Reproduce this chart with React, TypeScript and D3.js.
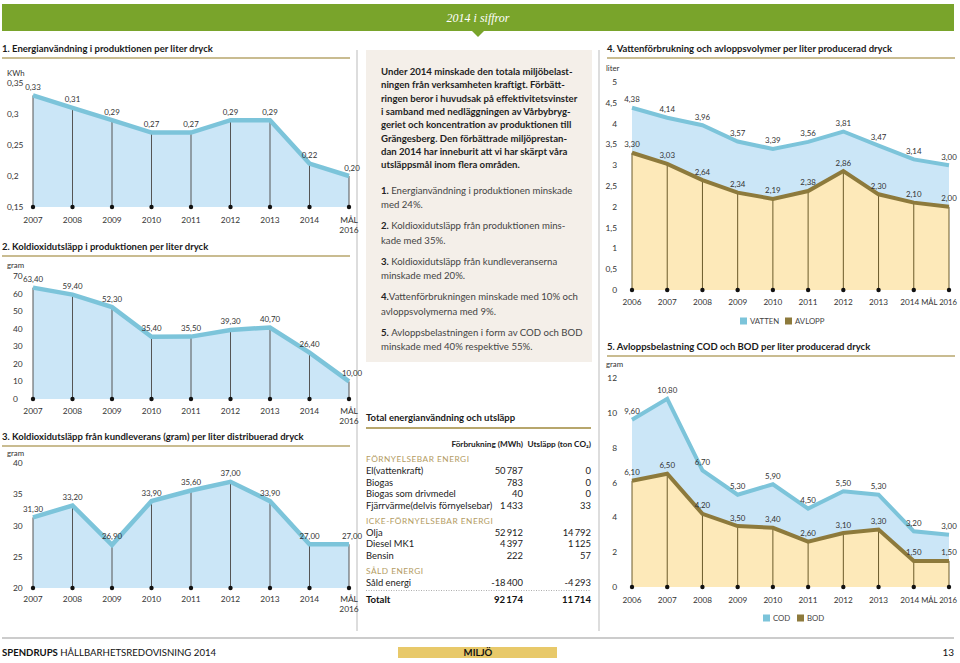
import React from 'react';
import * as d3 from 'd3';

const FONT = 'Lato, "Noto Sans", sans-serif';

// charts 1-3
const years1 = ['2007', '2008', '2009', '2010', '2011', '2012', '2013', '2014', 'MÅL 2016'];
const energy = [0.33, 0.31, 0.29, 0.27, 0.27, 0.29, 0.29, 0.22, 0.2];
const energyTicks = [0.15, 0.2, 0.25, 0.3, 0.35];
const co2Prod = [63.4, 59.4, 52.3, 35.4, 35.5, 39.3, 40.7, 26.4, 10.0];
const co2ProdTicks = [0, 10, 20, 30, 40, 50, 60, 70];
const co2Deliv = [31.3, 33.2, 26.9, 33.9, 35.6, 37.0, 33.9, 27.0, 27.0];
const co2DelivTicks = [20, 25, 30, 35, 40];

// charts 4-5
const years2 = ['2006', '2007', '2008', '2009', '2010', '2011', '2012', '2013', '2014', 'MÅL 2016'];
const vatten = [4.38, 4.14, 3.96, 3.57, 3.39, 3.56, 3.81, 3.47, 3.14, 3.0];
const avlopp = [3.3, 3.03, 2.64, 2.34, 2.19, 2.38, 2.86, 2.3, 2.1, 2.0];
const waterTicks = [0, 0.5, 1, 1.5, 2, 2.5, 3, 3.5, 4, 4.5, 5];
const cod = [9.6, 10.8, 6.7, 5.3, 5.9, 4.5, 5.5, 5.3, 3.2, 3.0];
const bod = [6.1, 6.5, 4.2, 3.5, 3.4, 2.6, 3.1, 3.3, 1.5, 1.5];
const loadTicks = [0, 2, 4, 6, 8, 10, 12];

// table
const sections = ['FÖRNYELSEBAR ENERGI', 'ICKE-FÖRNYELSEBAR ENERGI', 'SÅLD ENERGI'];
const rowSection = [0, 0, 0, 0, 1, 1, 1, 2];
const rowNames = ['El(vattenkraft)', 'Biogas', 'Biogas som drivmedel', 'Fjärrvärme(delvis förnyelsebar)', 'Olja', 'Diesel MK1', 'Bensin', 'Såld energi'];
const rowMwh = [50787, 783, 40, 1433, 52912, 4397, 222, -18400];
const rowCo2 = [0, 0, 0, 33, 14792, 1125, 57, -4293];

const intro = [
  'Under 2014 minskade den totala miljöbelast-',
  'ningen från verksamheten kraftigt. Förbätt-',
  'ringen beror i huvudsak på effektivitetsvinster',
  'i samband med nedläggningen av Vårbybryg-',
  'geriet och koncentration av produktionen till',
  'Grängesberg. Den förbättrade miljöprestan-',
  'dan 2014 har inneburit att vi har skärpt våra',
  'utsläppsmål inom flera områden.',
];
const points = [
  ['1. ', 'Energianvändning i produktionen minskade', 'med 24%.'],
  ['2. ', 'Koldioxidutsläpp från produktionen mins-', 'kade med 35%.'],
  ['3. ', 'Koldioxidutsläpp från kundleveranserna', 'minskade med 20%.'],
  ['4.', 'Vattenförbrukningen minskade med 10% och', 'avloppsvolymerna med 9%.'],
  ['5. ', 'Avloppsbelastningen i form av COD och BOD', 'minskade med 40% respektive 55%.'],
];

const BLUE_LINE = '#7cc4da';
const BLUE_FILL = '#cbe6f7';
const BROWN_LINE = '#8d7a3c';
const YELLOW_FILL = '#fde9b9';
const GOLD = '#b7a66c';
const GREEN = '#79a42b';
const TITLE_SIZE = 9.5;

const sv = d3.formatLocale({ decimal: ',', thousands: '\u2009', grouping: [3], currency: ['', ''], minus: '-' });
const num = sv.format(',d');
const val2 = sv.format('.2f');
const tickFmt = (v: number) => String(v).replace('.', ',');

type Single = {
  title: string; unit: string; values: number[]; ticks: number[];
  titleY: number; unitY: number; yRange: [number, number]; yearY: number; tickX: number;
};

function SingleChart({ title, unit, values, ticks, titleY, unitY, yRange, yearY, tickX }: Single) {
  const x = d3.scalePoint<string>().domain(years1).range([33, 349]);
  const y = d3.scaleLinear().domain([ticks[0], ticks[ticks.length - 1]]).range(yRange);
  const base = yRange[0];
  const area = d3.area<number>().x((_, i) => x(years1[i])!).y0(base).y1(d => y(d));
  const line = d3.line<number>().x((_, i) => x(years1[i])!).y(d => y(d));
  return (
    <g fontFamily={FONT}>
      <text x={2} y={titleY} fontSize={TITLE_SIZE} fontWeight={700} fill="#1a1a1a">{title}</text>
      <line x1={2} x2={350} y1={titleY + 6} y2={titleY + 6} stroke={GOLD} strokeWidth={1.5} />
      <text x={7} y={unitY} fontSize={7.8} fill="#333">{unit}</text>
      {ticks.map(t => (
        <text key={t} x={tickX} y={y(t) + 3} fontSize={8.4} fill="#333">{tickFmt(t)}</text>
      ))}
      <path d={area(values)!} fill={BLUE_FILL} />
      {values.map((v, i) => (
        <line key={i} x1={x(years1[i])} x2={x(years1[i])} y1={y(v)} y2={base} stroke="#555" strokeWidth={1} />
      ))}
      <path d={line(values)!} fill="none" stroke={BLUE_LINE} strokeWidth={4.5} />
      {values.map((v, i) => (
        <circle key={i} cx={x(years1[i])} cy={base} r={2.2} fill="#111" />
      ))}
      {values.map((v, i) => (
        <text key={i} x={x(years1[i])! + (i === values.length - 1 ? 3 : 0)} y={y(v) - 5.5} fontSize={7.9} textAnchor="middle" fill="#333">{val2(v)}</text>
      ))}
      {years1.map(c => {
        const parts = c.split(' ');
        return (
          <text key={c} x={x(c)} y={yearY} fontSize={8.4} textAnchor="middle" fill="#333">
            {parts.map((p, j) => <tspan key={j} x={x(c)} dy={j ? 9.5 : 0}>{p}</tspan>)}
          </text>
        );
      })}
    </g>
  );
}

type Dual = {
  title: string; unit: string; top: number[]; bottom: number[]; ticks: number[];
  names: [string, string]; titleY: number; unitY: number; yRange: [number, number];
  yearY: number; legendY: number; legendX: [number, number];
};

function DualChart({ title, unit, top, bottom, ticks, names, titleY, unitY, yRange, yearY, legendY, legendX }: Dual) {
  const x = d3.scalePoint<string>().domain(years2).range([632, 949]);
  const y = d3.scaleLinear().domain([0, ticks[ticks.length - 1]]).range(yRange);
  const base = yRange[0];
  const px = (i: number) => x(years2[i])!;
  const area = d3.area<number>().x((_, i) => px(i)).y0(base).y1(d => y(d));
  const line = d3.line<number>().x((_, i) => px(i)).y(d => y(d));
  const last = years2.length - 1;
  return (
    <g fontFamily={FONT}>
      <text x={607} y={titleY} fontSize={TITLE_SIZE} fontWeight={700} fill="#1a1a1a">{title}</text>
      <line x1={607} x2={955} y1={titleY + 6} y2={titleY + 6} stroke={GOLD} strokeWidth={1.5} />
      <text x={606} y={unitY} fontSize={7.8} fill="#333">{unit}</text>
      {ticks.map(t => (
        <text key={t} x={617} y={y(t) + 3} fontSize={8.4} textAnchor="end" fill="#333">{tickFmt(t)}</text>
      ))}
      <path d={area(top)!} fill={BLUE_FILL} />
      <path d={area(bottom)!} fill={YELLOW_FILL} />
      {bottom.map((v, i) => (
        <line key={i} x1={px(i)} x2={px(i)} y1={y(v)} y2={base} stroke="#6b5a2a" strokeWidth={1} />
      ))}
      <path d={line(top)!} fill="none" stroke={BLUE_LINE} strokeWidth={4} />
      <path d={line(bottom)!} fill="none" stroke={BROWN_LINE} strokeWidth={4} />
      {top.map((_, i) => <circle key={i} cx={px(i)} cy={base} r={2.2} fill="#111" />)}
      {top.map((v, i) => (
        <text key={'t' + i} x={px(i)} y={y(v) - 5.5} fontSize={7.9} textAnchor="middle" fill="#333">{val2(v)}</text>
      ))}
      {bottom.map((v, i) => (
        <text key={'b' + i} x={px(i)} y={y(v) - 5.5} fontSize={7.9} textAnchor="middle" fill="#333">{val2(v)}</text>
      ))}
      {years2.map((c, i) => (
        i === last
          ? <text key={c} x={957} y={yearY} fontSize={7.7} textAnchor="end" fill="#333">{c}</text>
          : <text key={c} x={px(i) - (i === last - 1 ? 4 : 0)} y={yearY} fontSize={8.2} textAnchor="middle" fill="#333">{c}</text>
      ))}
      {names.map((n, i) => (
        <g key={n}>
          <rect x={legendX[i]} y={legendY - 3.5} width={7} height={7} fill={i ? BROWN_LINE : BLUE_LINE} />
          <text x={legendX[i] + 10} y={legendY + 3} fontSize={7.8} fill="#444">{n}</text>
        </g>
      ))}
    </g>
  );
}

function Table() {
  const colA = 523;
  const colB = 591;
  const rows: React.ReactNode[] = [];
  let yy = 448;
  let prev = -1;
  rowNames.forEach((n, i) => {
    if (rowSection[i] !== prev) {
      prev = rowSection[i];
      yy += i === 0 ? 14 : 15;
      rows.push(
        <text key={'s' + i} x={366} y={yy} fontSize={8.3} fill="#b39c63" letterSpacing={0.5}>{sections[prev]}</text>
      );
      yy += 12;
    } else {
      yy += 11.5;
    }
    rows.push(
      <g key={n} fontSize={9.4} fill="#222">
        <text x={366} y={yy}>{n}</text>
        <text x={colA} y={yy} textAnchor="end">{num(rowMwh[i])}</text>
        <text x={colB} y={yy} textAnchor="end">{num(rowCo2[i])}</text>
      </g>
    );
  });
  const totY = yy + 17;
  return (
    <g fontFamily={FONT}>
      <text x={366} y={421} fontSize={TITLE_SIZE} fontWeight={700} fill="#1a1a1a">Total energianvändning och utsläpp</text>
      <line x1={366} x2={591} y1={428} y2={428} stroke={GOLD} strokeWidth={2} />
      <text x={colA} y={447} fontSize={8.2} fontWeight={700} textAnchor="end" fill="#222">Förbrukning (MWh)</text>
      <text x={colB} y={447} fontSize={8.2} fontWeight={700} textAnchor="end" fill="#222">Utsläpp (ton CO₂)</text>
      {rows}
      <line x1={366} x2={591} y1={yy + 5} y2={yy + 5} stroke="#999" strokeWidth={0.8} strokeDasharray="1,1.5" />
      <g fontSize={9.6} fontWeight={700} fill="#111">
        <text x={366} y={totY}>Totalt</text>
        <text x={colA} y={totY} textAnchor="end">{num(d3.sum(rowMwh))}</text>
        <text x={colB} y={totY} textAnchor="end">{num(d3.sum(rowCo2))}</text>
      </g>
    </g>
  );
}

export default function App() {
  return (
    <svg width={960} height={663} style={{ position: 'absolute', left: 0, top: 0, background: '#fff' }}>
      {/* header band */}
      <rect x={2} y={4} width={952} height={27} fill={GREEN} />
      <path d="M472,31 L484,31 L478,37 Z" fill={GREEN} />
      <text x={478} y={21.5} fontSize={12} fontStyle="italic" fontFamily='"Liberation Serif", "DejaVu Serif", serif' textAnchor="middle" fill="#fff">2014 i siffror</text>

      {/* separators */}
      <line x1={357} x2={357} y1={50} y2={631} stroke="#bbb" />
      <line x1={599} x2={599} y1={50} y2={631} stroke="#bbb" />

      <SingleChart title="1. Energianvändning i produktionen per liter dryck" unit="KWh" values={energy} ticks={energyTicks}
        titleY={52} unitY={76} yRange={[207, 83]} yearY={223} tickX={7} />
      <SingleChart title="2. Koldioxidutsläpp i produktionen per liter dryck" unit="gram" values={co2Prod} ticks={co2ProdTicks}
        titleY={250} unitY={268} yRange={[399, 276]} yearY={414} tickX={13} />
      <SingleChart title="3. Koldioxidutsläpp från kundleverans (gram) per liter distribuerad dryck" unit="gram" values={co2Deliv} ticks={co2DelivTicks}
        titleY={440} unitY={456} yRange={[588, 463]} yearY={602} tickX={13} />

      {/* middle text box */}
      <rect x={366} y={50} width={226} height={312} fill="#f4efe9" />
      <g fontFamily={FONT} fontSize={9.6} fontWeight={700} fill="#1e1e1e">
        {intro.map((l, i) => <text key={i} x={381} y={75 + i * 13.3}>{l}</text>)}
      </g>
      <g fontFamily={FONT} fontSize={9.6} fill="#444">
        {points.map((p, i) => (
          <g key={i}>
            <text x={381} y={193.5 + i * 35.5}>
              <tspan fontWeight={700} fill="#222">{p[0]}</tspan>{p[1]}
            </text>
            <text x={381} y={208 + i * 35.5}>{p[2]}</text>
          </g>
        ))}
      </g>

      <Table />

      <DualChart title="4. Vattenförbrukning och avloppsvolymer per liter producerad dryck" unit="liter"
        top={vatten} bottom={avlopp} ticks={waterTicks} names={['VATTEN', 'AVLOPP']}
        titleY={52} unitY={71} yRange={[290, 82]} yearY={305} legendY={321} legendX={[740, 785]} />
      <DualChart title="5. Avloppsbelastning COD och BOD per liter producerad dryck" unit="gram"
        top={cod} bottom={bod} ticks={loadTicks} names={['COD', 'BOD']}
        titleY={350} unitY={367} yRange={[587, 378]} yearY={603} legendY={618} legendX={[763, 797]} />

      {/* footer */}
      <line x1={2} x2={954} y1={638} y2={638} stroke="#999" />
      <text x={2} y={656} fontFamily={FONT} fontSize={9.6} fill="#111">
        <tspan fontWeight={700}>SPENDRUPS</tspan> HÅLLBARHETSREDOVISNING 2014
      </text>
      <rect x={398} y={647} width={159} height={11} fill="#e8c96a" />
      <text x={478} y={656} fontFamily={FONT} fontSize={9.6} fontWeight={700} textAnchor="middle" fill="#111">MILJÖ</text>
      <text x={954} y={656} fontFamily={FONT} fontSize={10} textAnchor="end" fill="#111">13</text>
    </svg>
  );
}
